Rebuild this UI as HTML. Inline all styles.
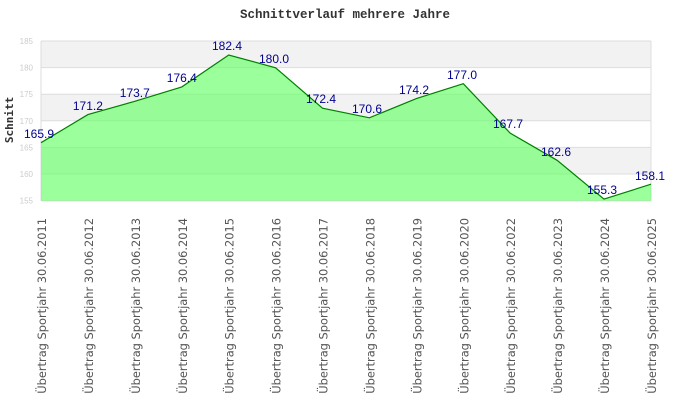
<!DOCTYPE html>
<html><head><meta charset="utf-8"><style>body{margin:0;background:#fff}svg{display:block}</style></head><body>
<svg width="690" height="420" xmlns="http://www.w3.org/2000/svg">
<text x="345" y="18" text-anchor="middle" font-family="Liberation Mono,monospace" font-weight="bold" font-size="12.5" fill="#333">Schnittverlauf mehrere Jahre</text>
<rect x="41" y="41" width="610" height="26.6" fill="#f2f2f2"/>
<rect x="41" y="94.2" width="610" height="26.6" fill="#f2f2f2"/>
<rect x="41" y="147.4" width="610" height="26.6" fill="#f2f2f2"/>
<g stroke="#ddd" stroke-width="1">
<line x1="41" y1="41" x2="651" y2="41"/><line x1="41" y1="67.6" x2="651" y2="67.6"/><line x1="41" y1="94.2" x2="651" y2="94.2"/><line x1="41" y1="120.8" x2="651" y2="120.8"/><line x1="41" y1="147.4" x2="651" y2="147.4"/><line x1="41" y1="174" x2="651" y2="174"/><line x1="41" y1="200.7" x2="651" y2="200.7"/>
<line x1="41" y1="41" x2="41" y2="200.7"/><line x1="651" y1="41" x2="651" y2="200.7"/>
</g>
<g font-family="Liberation Sans,sans-serif" font-size="8" fill="#ccc" text-anchor="end">
<text x="33" y="44">185</text><text x="33" y="70.6">180</text><text x="33" y="97.2">175</text><text x="33" y="123.8">170</text><text x="33" y="150.4">165</text><text x="33" y="177">160</text><text x="33" y="203.7">155</text>
</g>
<polygon points="41,200.7 41,142.7 87.9,114.6 134.8,101.3 181.8,86.9 228.7,55 275.6,67.8 322.5,108.2 369.4,117.8 416.4,98.6 463.3,83.7 510.2,133.2 557.1,160.3 604,199.1 651,184.2 651,200.7" fill="#66ff66" fill-opacity="0.65"/>
<polyline points="41,142.7 87.9,114.6 134.8,101.3 181.8,86.9 228.7,55 275.6,67.8 322.5,108.2 369.4,117.8 416.4,98.6 463.3,83.7 510.2,133.2 557.1,160.3 604,199.1 651,184.2" fill="none" stroke="#008000" stroke-width="1.2"/>
<g font-family="Liberation Sans,sans-serif" font-size="12" fill="#000090" text-anchor="middle">
<text x="39" y="138">165.9</text><text x="87.9" y="110">171.2</text><text x="134.8" y="97">173.7</text><text x="181.8" y="82">176.4</text><text x="227" y="50">182.4</text><text x="274" y="63">180.0</text><text x="321" y="103">172.4</text><text x="367" y="113">170.6</text><text x="414" y="94">174.2</text><text x="462" y="79">177.0</text><text x="508" y="128">167.7</text><text x="556" y="156">162.6</text><text x="602" y="194">155.3</text><text x="650" y="180">158.1</text>
</g>
<text transform="translate(13,120) rotate(-90)" text-anchor="middle" font-family="DejaVu Sans Mono,monospace" font-weight="bold" font-size="11" fill="#333">Schnitt</text>
<g font-family="DejaVu Sans,sans-serif" font-size="11.4" fill="#555" text-anchor="end">
<text transform="translate(46,218) rotate(-90)">Übertrag Sportjahr 30.06.2011</text>
<text transform="translate(92.9,218) rotate(-90)">Übertrag Sportjahr 30.06.2012</text>
<text transform="translate(139.8,218) rotate(-90)">Übertrag Sportjahr 30.06.2013</text>
<text transform="translate(186.8,218) rotate(-90)">Übertrag Sportjahr 30.06.2014</text>
<text transform="translate(233.7,218) rotate(-90)">Übertrag Sportjahr 30.06.2015</text>
<text transform="translate(280.6,218) rotate(-90)">Übertrag Sportjahr 30.06.2016</text>
<text transform="translate(327.5,218) rotate(-90)">Übertrag Sportjahr 30.06.2017</text>
<text transform="translate(374.4,218) rotate(-90)">Übertrag Sportjahr 30.06.2018</text>
<text transform="translate(421.4,218) rotate(-90)">Übertrag Sportjahr 30.06.2019</text>
<text transform="translate(468.3,218) rotate(-90)">Übertrag Sportjahr 30.06.2020</text>
<text transform="translate(515.2,218) rotate(-90)">Übertrag Sportjahr 30.06.2022</text>
<text transform="translate(562.1,218) rotate(-90)">Übertrag Sportjahr 30.06.2023</text>
<text transform="translate(609,218) rotate(-90)">Übertrag Sportjahr 30.06.2024</text>
<text transform="translate(656,218) rotate(-90)">Übertrag Sportjahr 30.06.2025</text>
</g>
</svg>
</body></html>
